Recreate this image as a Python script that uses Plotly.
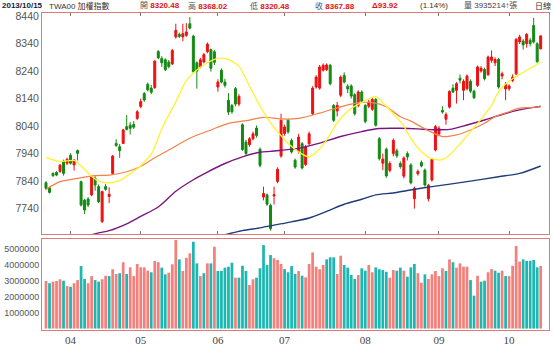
import plotly.graph_objects as go

# ---------------- data ----------------
opens = [7834,7816,7868,7872,7875,7912,7905,7934,7899,7951,
         7838,7771,7775,7790,7850,7820,7693,7820,7784,7868,
         7977,7965,7977,8038,8043,8046,8068,8111,8158,8192,
         8178,8180,8311,8286,8281,8273,8266,8364,8373,8364,
         8370,8412,8367,8270,8255,8273,8310,8318,8310,8182,
         8243,8200,8134,8115,8176,8120,8045,7982,7972,7994,
         8033,7956,7782,7790,7752,7786,7839,7931,8013,8061,
         7988,7916,7946,7976,7900,7976,8085,8182,8178,8243,
         8245,8261,8115,8095,8152,8224,8185,8186,8154,8115,
         8164,8115,8112,8101,8137,7994,7905,7956,7879,7940,
         7950,7904,7858,7940,7899,7776,7867,7908,7880,7776,
         7844,7953,8011,8097,8065,8109,8178,8170,8214,8170,
         8176,8203,8167,8188,8240,8246,8227,8279,8270,8283,
         8222,8175,8176,8206,8230,8346,8349,8340,8352,8406,
         8339,8320.48]
highs = [7840,7820,7872,7876,7902,7918,7925,7941,7918,7955,
         7842,7776,7782,7862,7858,7828,7805,7830,7818,7935,
         7992,7975,8030,8080,8055,8058,8098,8140,8164,8198,
         8190,8280,8316,8294,8286,8280,8320,8412,8380,8412,
         8414,8436,8372,8275,8288,8306,8344,8322,8316,8210,
         8250,8212,8160,8120,8182,8156,8050,7990,8000,8020,
         8042,7962,7820,7795,7758,7820,7890,8085,8045,8066,
         7995,7922,8012,7982,7972,8020,8185,8225,8262,8268,
         8268,8266,8120,8128,8224,8235,8192,8192,8160,8170,
         8170,8120,8135,8142,8142,8000,7940,7962,7912,7995,
         7958,7912,7930,7948,7905,7820,7882,7915,7886,7830,
         7924,8044,8040,8112,8090,8170,8192,8200,8228,8210,
         8228,8210,8172,8260,8258,8252,8296,8315,8290,8288,
         8238,8200,8192,8228,8360,8372,8356,8378,8360,8433,
         8345,8368.02]
lows = [7808,7795,7855,7858,7870,7860,7898,7900,7878,7915,
        7748,7720,7745,7785,7805,7760,7688,7805,7760,7865,
        7965,7925,7975,8024,8010,8030,8062,8105,8128,8166,
        8156,8175,8283,8255,8240,8250,8262,8358,8360,8348,
        8364,8392,8232,8176,8250,8268,8305,8238,8262,8165,
        8195,8180,8080,8085,8112,8112,7950,7935,7965,7988,
        7998,7890,7770,7750,7660,7755,7832,7925,8005,8012,
        7940,7885,7940,7882,7895,7970,8080,8176,8172,8238,
        8240,8188,8055,8075,8145,8195,8160,8140,8078,8108,
        8124,8050,8105,8095,8038,7915,7880,7852,7872,7930,
        7925,7885,7850,7915,7828,7740,7860,7890,7820,7766,
        7838,7948,8005,8085,8045,8104,8160,8122,8195,8134,
        8170,8160,8138,8182,8234,8206,8222,8270,8258,8176,
        8210,8134,8168,8200,8225,8338,8318,8325,8330,8340,
        8270,8320.48]
closes = [7814,7799,7860,7862,7898,7868,7919,7905,7917,7941,
          7753,7735,7753,7856,7826,7765,7802,7810,7792,7931,
          7969,7951,8026,8028,8032,8036,8092,8129,8135,8172,
          8163,8276,8288,8270,8245,8256,8315,8388,8366,8376,
          8382,8396,8238,8240,8281,8300,8338,8250,8272,8200,
          8200,8188,8091,8092,8120,8148,7955,7940,7994,8012,
          8006,7897,7795,7756,7667,7791,7883,8061,8037,8019,
          7946,7891,8000,7888,7965,8012,8178,8218,8255,8261,
          8262,8194,8061,8115,8218,8200,8175,8149,8085,8164,
          8130,8057,8127,8137,8043,7922,7920,7859,7904,7988,
          7932,7893,7924,7928,7834,7814,7875,7895,7826,7825,
          7919,8038,8032,8091,8082,8166,8164,8194,8207,8203,
          8222,8167,8143,8255,8250,8212,8291,8291,8282,8182,
          8230,8192,8186,8218,8355,8364,8335,8373,8340,8346,
          8274,8367.88]
volume_m = [2.99,2.85,2.95,2.99,3.10,3.01,2.68,2.63,2.85,3.05,
            3.93,3.12,2.85,3.30,3.05,2.95,3.10,3.32,3.30,3.73,
            3.43,3.48,4.17,3.43,3.85,3.30,4.06,3.85,3.85,3.64,
            3.54,4.25,4.17,3.83,3.41,3.51,4.04,5.57,4.35,3.62,
            4.45,4.73,5.46,4.10,3.30,3.48,4.10,4.10,5.15,3.62,
            3.62,3.83,3.89,4.14,3.20,3.20,3.95,3.62,2.74,3.10,
            3.20,3.79,5.25,4.00,4.62,4.42,4.31,4.06,3.74,3.54,
            3.93,3.43,3.62,3.32,3.22,4.06,4.79,3.89,3.73,4.00,
            4.35,4.48,4.48,3.43,4.58,4.00,3.83,3.37,3.12,3.37,
            3.79,3.64,4.00,3.54,3.85,3.73,3.68,3.57,3.20,3.68,
            3.64,3.83,3.64,3.26,3.85,4.06,3.48,2.88,3.41,3.12,
            3.41,3.62,3.30,3.79,3.62,4.35,4.17,3.83,4.10,3.89,
            3.89,3.05,2.07,3.32,2.95,3.01,3.54,3.74,3.64,3.51,
            3.64,3.30,3.30,3.95,5.19,4.21,4.35,4.26,4.26,4.31,
            3.85,3.935214]
volume_up = "rtrrrtrtrrttrrttrrtrrtrtrrrrrrtrrttrrrtrrrttrtrtrtttttrtttrrttttt" \
            "rrrttttrtrrrrrrtttrrttttrttrrttttrrttrtttrrtrrrrrtrtrrrrttrttrrttrtrrrrtttttr"
months_idx = [7, 27, 49, 68, 91, 112, 132]
months_lbl = ["04", "05", "06", "07", "08", "09", "10"]
price_ticks = [7740, 7840, 7940, 8040, 8140, 8240, 8340, 8440]
vol_ticks = [1000000, 2000000, 3000000, 4000000, 5000000]

ma_yellow_idx = [0,4,8,10,13,15,18,21,23,25,27,28,30,33,35,37,40,43,46,49,51,53,55,58,61,64,67,70,73,75,77,80,83,86,90,94,96,99,102,104,107,110,113,115,118,121,124,127,129,132,135,138,141]
ma_yellow_val = [7926,7911,7915,7895,7858,7840,7834,7842,7858,7876,7895,7910,7937,8030,8080,8128,8205,8244,8270,8286,8286,8276,8258,8185,8113,8052,8005,7966,7938,7928,7945,7990,8052,8094,8126,8147,8125,8085,8040,7995,7947,7922,7918,7935,7975,8020,8065,8115,8165,8203,8228,8250,8273]
ma_orange_idx = [0,4,9,14,18,23,27,30,35,41,47,52,58,62,67,72,78,84,89,93,97,101,104,108,113,117,121,125,128,132,135,139,141]
ma_orange_val = [7810,7838,7850,7860,7862,7874,7893,7917,7953,7996,8026,8050,8062,8072,8066,8068,8087,8110,8125,8125,8110,8074,8058,8030,8002,8008,8026,8050,8074,8092,8105,8108,8113]
ma_purple_idx = [13,15,18,23,27,32,37,42,46,51,56,61,64,67,72,78,84,90,95,101,106,110,115,120,125,129,134,139,141]
ma_purple_val = [7645,7652,7660,7685,7712,7746,7803,7845,7873,7904,7928,7945,7948,7952,7959,7978,8002,8020,8031,8032,8030,8027,8028,8044,8062,8078,8096,8108,8111]
ma_navy_idx = [51,56,61,65,70,75,80,85,90,94,99,103,110,120,129,135,141]
ma_navy_val = [7645,7660,7670,7680,7692,7706,7730,7756,7774,7790,7797,7806,7820,7838,7856,7868,7895]

# ---------------- styles ----------------
RED = "#EE1111"
GREEN = "#138A13"
VOL_UP = "#F57F7B"
VOL_DN = "#1DB7B1"
BORDER = "#DD7A7A"
TXT = "#444444"

n = len(closes)
idx = list(range(n))
vol = [v * 1e6 for v in volume_m]
vol_colors = [VOL_UP if c == "r" else VOL_DN for c in volume_up[:n]]

fig = go.Figure()

fig.add_trace(go.Candlestick(
    x=idx, open=opens, high=highs, low=lows, close=closes,
    increasing=dict(line=dict(color=RED, width=1), fillcolor=RED),
    decreasing=dict(line=dict(color=GREEN, width=1), fillcolor=GREEN),
    whiskerwidth=0, xaxis="x", yaxis="y", showlegend=False, hoverinfo="skip"))

for xs, ys, col, w in [(ma_navy_idx, ma_navy_val, "#1E3C7A", 1.4),
                       (ma_purple_idx, ma_purple_val, "#7A1480", 1.4),
                       (ma_orange_idx, ma_orange_val, "#F5804A", 1.2),
                       (ma_yellow_idx, ma_yellow_val, "#FFF22E", 1.3)]:
    fig.add_trace(go.Scatter(x=xs, y=ys, mode="lines",
                             line=dict(color=col, width=w, shape="spline", smoothing=0.8),
                             xaxis="x", yaxis="y", showlegend=False, hoverinfo="skip"))

fig.add_trace(go.Bar(x=idx, y=vol, marker=dict(color=vol_colors, line=dict(width=0)),
                     xaxis="x2", yaxis="y2", showlegend=False, hoverinfo="skip"))

xr = [-1.14, 143.37]
fig.update_layout(
    width=553, height=357,
    margin=dict(l=42, r=4, t=13, b=27, autoexpand=False),
    paper_bgcolor="white", plot_bgcolor="white",
    bargap=0.22, boxgap=0.2,
    font=dict(family="Liberation Sans", color=TXT),
    xaxis=dict(domain=[0, 1], anchor="y", range=xr, tickvals=months_idx,
               ticktext=[""] * len(months_idx), ticks="inside", ticklen=3,
               tickcolor="#777777", showline=True, linecolor=BORDER, linewidth=1,
               mirror="ticks", showgrid=False, zeroline=False, automargin=False,
               rangeslider=dict(visible=False)),
    yaxis=dict(domain=[0.303, 1], anchor="x", range=[7648, 8451], tickvals=price_ticks,
               ticktext=[str(t) for t in price_ticks], showline=True, linecolor=BORDER,
               linewidth=1, mirror=True, showgrid=False, zeroline=False, ticks="",
               automargin=False,
               tickfont=dict(family="Liberation Sans", size=10.5, color="#555555")),
    xaxis2=dict(domain=[0, 1], anchor="y2", range=xr, tickvals=months_idx,
                ticktext=months_lbl, ticks="", showline=True, linecolor=BORDER,
                linewidth=1, mirror=True, showgrid=False, zeroline=False, automargin=False,
                tickfont=dict(family="Liberation Serif", size=11, color="#444444")),
    yaxis2=dict(domain=[0, 0.287], anchor="x2", range=[-0.09e6, 5.63e6], tickvals=vol_ticks,
                ticktext=[str(t) for t in vol_ticks], showline=True, linecolor=BORDER,
                linewidth=1, mirror=True, showgrid=False, zeroline=False, ticks="",
                automargin=False,
                tickfont=dict(family="Liberation Sans", size=9, color="#555555")),
)

def px2paper(px):
    return (px - 42) / 507.0

hy = (330 - 6) / 317.0
header = [
    (0, "<b>2013/10/15</b>", "#1A1A3A"),
    (47, "TWA00 加權指數", "#333333"),
    (138, "開 <b><span style='color:#E01010'>8320.48</span></b>", "#555555"),
    (186, "高 <b><span style='color:#E01010'>8368.02</span></b>", "#555555"),
    (248, "低 <b><span style='color:#E01010'>8320.48</span></b>", "#555555"),
    (313, "收 <b><span style='color:#E01010'>8367.88</span></b>", "#555555"),
    (370, "<b><span style='color:#E01010'>Δ93.92</span></b>", "#555555"),
    (418, "(1.14%)", "#333333"),
    (462, "量 3935214↑張", "#444444"),
    (533, "日線", "#333333"),
]
for px, txt, col in header:
    fig.add_annotation(x=px2paper(px), y=hy, xref="paper", yref="paper", text=txt,
                       showarrow=False, xanchor="left", yanchor="middle",
                       font=dict(family="Liberation Sans, Noto Sans CJK TC", size=8, color=col))

fig.write_html("out.html", config={"displayModeBar": False},
               post_script="document.body.style.margin='0';")
